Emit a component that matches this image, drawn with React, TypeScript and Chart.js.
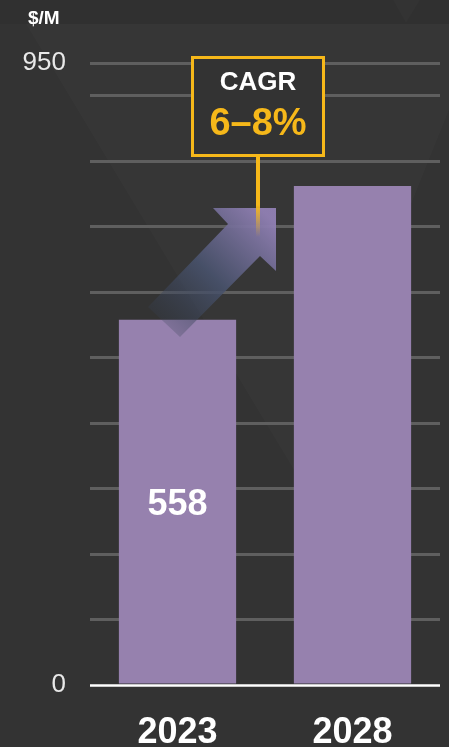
import React, { useEffect, useRef } from 'react';
import { Chart, registerables } from 'chart.js';

Chart.register(...registerables);

const categories = ['2023', '2028'];
const marketValues = [558, 762];
const yTickValues = [0, 100, 200, 300, 400, 500, 600, 700, 800, 900, 950];
const yLabelValues = [0, 950];
const valueLabel = '558';
const unitLabel = '$/M';
const cagrTitle = 'CAGR';
const cagrRange = '6–8%';

const FONT = '"Liberation Sans", Arial, sans-serif';
const BAR = '#9681ae';
const YELLOW = '#f6b81a';
const BG = '#333333';

const bgPlugin = {
  id: 'bg',
  beforeDraw(chart: any) {
    const { ctx, width, height } = chart;
    ctx.save();
    ctx.fillStyle = BG;
    ctx.fillRect(0, 0, width, height);
    // darker top strip
    ctx.fillStyle = 'rgba(0,0,0,0.045)';
    ctx.fillRect(0, 0, width, 24);
    // faint background triangles
    ctx.fillStyle = 'rgba(255,255,255,0.014)';
    ctx.beginPath();
    ctx.moveTo(26, 24);
    ctx.lineTo(width, 24);
    ctx.lineTo(width, 110);
    ctx.lineTo(300, 480);
    ctx.closePath();
    ctx.fill();
    ctx.beginPath();
    ctx.moveTo(393, 0);
    ctx.lineTo(420, 0);
    ctx.lineTo(406, 23);
    ctx.closePath();
    ctx.fill();
    ctx.restore();
  },
};

const annoPlugin = {
  id: 'anno',
  afterDatasetsDraw(chart: any) {
    const { ctx, chartArea } = chart;
    const ys = chart.scales.y;
    const meta = chart.getDatasetMeta(0);
    const b0 = meta.data[0];
    const zeroY = ys.getPixelForValue(0);
    ctx.save();

    // white baseline
    ctx.strokeStyle = '#ffffff';
    ctx.lineWidth = 2.5;
    ctx.beginPath();
    ctx.moveTo(chartArea.left, zeroY + 0.5);
    ctx.lineTo(chartArea.right, zeroY + 0.5);
    ctx.stroke();

    // value label
    ctx.fillStyle = '#ffffff';
    ctx.font = `bold 36px ${FONT}`;
    ctx.textAlign = 'center';
    ctx.textBaseline = 'middle';
    ctx.fillText(valueLabel, b0.x, (b0.y + b0.base) / 2 + 3);

    const ox = b0.x;
    const oy = chartArea.top;

    // growth arrow
    const pts = [
      [-29.5, 244],
      [50.5, 161],
      [35.5, 145],
      [98.5, 145],
      [98.5, 208],
      [82.5, 193],
      [2.5, 274],
    ];
    const g = ctx.createLinearGradient(ox - 14, oy + 259, ox + 90, oy + 153);
    g.addColorStop(0, 'rgba(55,65,85,0.25)');
    g.addColorStop(0.45, 'rgba(72,82,108,0.9)');
    g.addColorStop(1, 'rgba(145,128,180,0.95)');
    ctx.fillStyle = g;
    ctx.beginPath();
    pts.forEach(([dx, dy], i) => {
      if (i === 0) ctx.moveTo(ox + dx, oy + dy);
      else ctx.lineTo(ox + dx, oy + dy);
    });
    ctx.closePath();
    ctx.fill();

    // CAGR box
    const cx = ox + 80.5;
    const boxTop = oy - 7;
    const boxBottom = oy + 94;
    const boxW = 134;

    // stem
    const sg = ctx.createLinearGradient(0, boxBottom, 0, oy + 174);
    sg.addColorStop(0, YELLOW);
    sg.addColorStop(0.6, YELLOW);
    sg.addColorStop(1, 'rgba(246,184,26,0)');
    ctx.strokeStyle = sg;
    ctx.lineWidth = 4;
    ctx.beginPath();
    ctx.moveTo(cx, boxBottom);
    ctx.lineTo(cx, oy + 174);
    ctx.stroke();

    ctx.fillStyle = BG;
    ctx.fillRect(cx - boxW / 2, boxTop, boxW, boxBottom - boxTop);
    ctx.strokeStyle = YELLOW;
    ctx.lineWidth = 3;
    ctx.strokeRect(cx - boxW / 2 + 1.5, boxTop + 1.5, boxW - 3, boxBottom - boxTop - 3);

    ctx.fillStyle = '#ffffff';
    ctx.font = `bold 26px ${FONT}`;
    ctx.fillText(cagrTitle, cx, boxTop + 27);
    ctx.fillStyle = YELLOW;
    ctx.font = `bold 38px ${FONT}`;
    ctx.fillText(cagrRange, cx, boxTop + 69);

    // unit label
    ctx.fillStyle = '#ffffff';
    ctx.font = `bold 19px ${FONT}`;
    ctx.textAlign = 'left';
    ctx.fillText(unitLabel, 28, 19);

    ctx.restore();
  },
};

export default function App() {
  const ref = useRef<HTMLCanvasElement>(null);
  useEffect(() => {
    document.body.style.margin = '0';
    const canvas = ref.current!;
    const chart = new Chart(canvas, {
      type: 'bar',
      data: {
        labels: categories,
        datasets: [
          {
            data: marketValues,
            backgroundColor: BAR,
            borderWidth: 0,
            barPercentage: 0.67,
            categoryPercentage: 1,
          },
        ],
      },
      options: {
        responsive: false,
        animation: false,
        devicePixelRatio: 1,
        layout: { padding: { top: 63, right: 9, left: 0, bottom: 0 } },
        plugins: { legend: { display: false }, tooltip: { enabled: false } },
        scales: {
          x: {
            grid: { display: false },
            border: { display: false },
            ticks: {
              color: '#ffffff',
              font: { family: FONT, weight: 'bold', size: 36 },
              padding: 18,
              maxRotation: 0,
            },
            afterFit: (s: any) => {
              s.height = 62;
            },
          },
          y: {
            min: 0,
            max: 950,
            afterBuildTicks: (s: any) => {
              s.ticks = yTickValues.map((v) => ({ value: v }));
            },
            grid: {
              color: (c: any) => (c.tick && c.tick.value === 0 ? 'rgba(0,0,0,0)' : '#5f5f5f'),
              lineWidth: 3,
              drawTicks: false,
            },
            border: { display: false },
            ticks: {
              color: '#e8e8e8',
              font: { family: FONT, size: 26 },
              padding: 24,
              autoSkip: false,
              callback: (v: any) => (yLabelValues.includes(Number(v)) ? String(v) : ''),
            },
            afterFit: (s: any) => {
              s.width = 90;
            },
          },
        },
      } as any,
      plugins: [bgPlugin, annoPlugin],
    });
    return () => chart.destroy();
  }, []);
  return (
    <div style={{ width: 449, height: 747 }}>
      <canvas ref={ref} width={449} height={747} style={{ display: 'block' }} />
    </div>
  );
}
